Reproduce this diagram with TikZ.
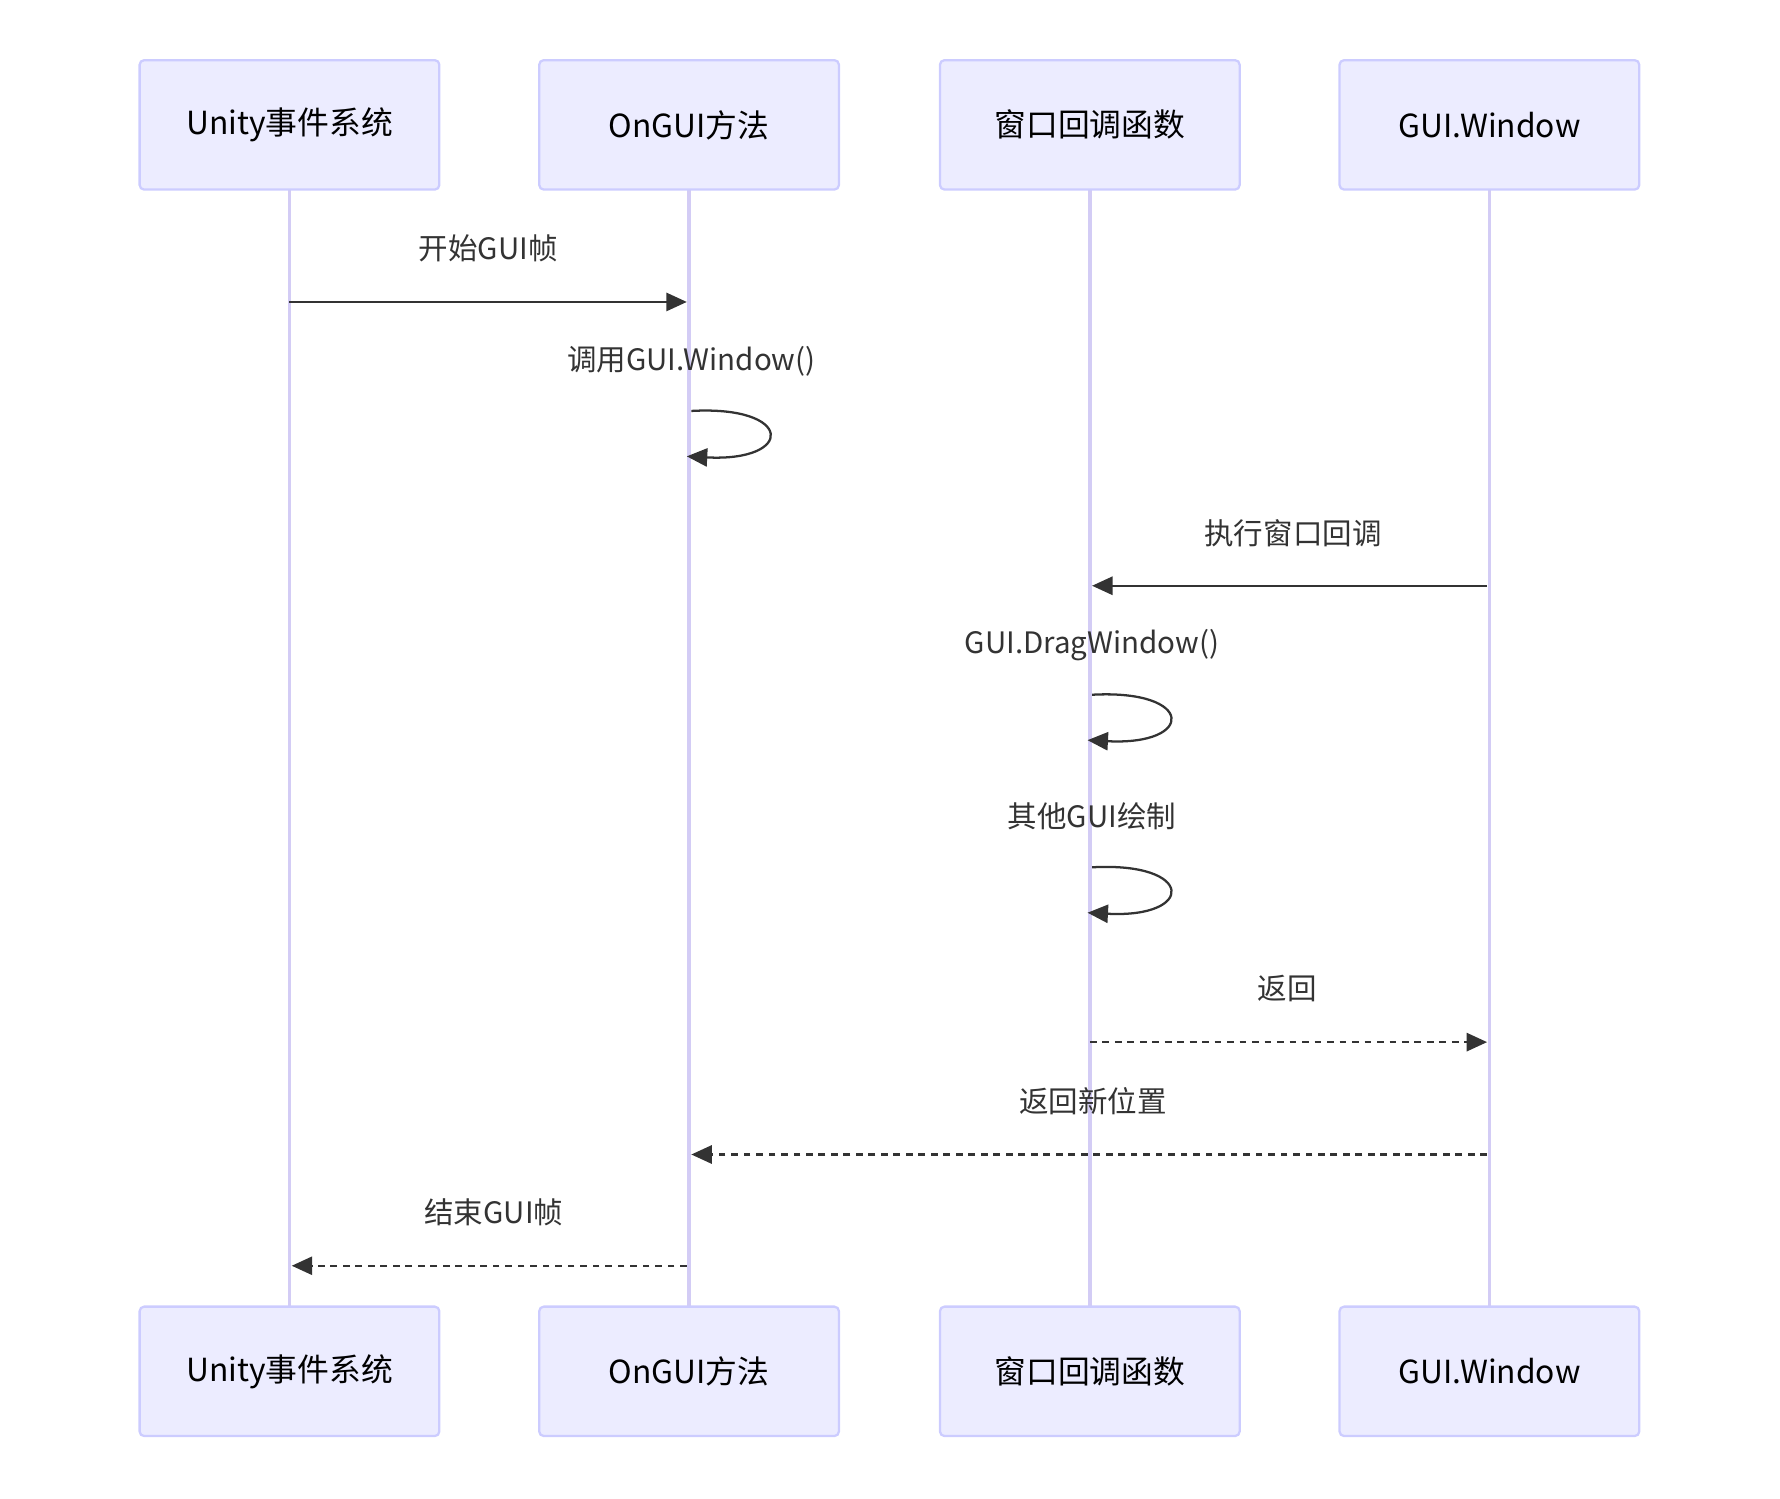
\documentclass[tikz,border=0pt]{standalone}
\usepackage{fontspec}
\setmainfont{Noto Sans CJK SC}
\usetikzlibrary{arrows.meta}
\definecolor{boxfill}{HTML}{ECECFF}
\definecolor{boxline}{HTML}{CCCCFF}
\definecolor{life}{HTML}{D3CCF5}
\definecolor{ink}{HTML}{333333}
\begin{document}
\begin{tikzpicture}[x=0.5pt,y=-0.5pt,
  actor/.style={draw=boxline,fill=boxfill,line width=1pt,rounded corners=2pt,minimum width=132pt,minimum height=57pt,inner sep=0pt,font=\fontsize{14}{16}\selectfont,text=black},
  lab/.style={font=\fontsize{13}{15}\selectfont,text=ink},
  msg/.style={draw=ink,line width=1pt,-{Triangle[length=9pt,width=8pt]}},
  ret/.style={msg,dash pattern=on 3pt off 2.5pt}]
\useasboundingbox (0,0) rectangle (1568,1320);
\foreach \n/\x/\t in {a/255/Unity事件系统,b/607/OnGUI方法,c/960/窗口回调函数,d/1312/GUI.Window}{
  \draw[life,line width=1.5pt] (\x,167) -- (\x,1151);
  \node[actor] (\n top) at (\x,110) {\t};
  \node[actor] (\n bot) at (\x,1208) {\t};
}
% coordinates
\coordinate (a1) at (255,266); \coordinate (b1) at (605,266);
\coordinate (b2s) at (609,362); \coordinate (b2e) at (605,402);
\coordinate (d3) at (1310,516); \coordinate (c3) at (962,516);
\coordinate (c4s) at (962,612); \coordinate (c4e) at (958,652);
\coordinate (c5s) at (962,764); \coordinate (c5e) at (958,804);
\coordinate (c6) at (960,918); \coordinate (d6) at (1310,918);
\coordinate (d7) at (1310,1017); \coordinate (b7) at (609,1017);
\coordinate (b8) at (605,1115); \coordinate (a8) at (257,1115);

\node[lab] (l1) at (430,219) {开始GUI帧};
\draw[msg] (a1) -- (b1);
\node[lab] (l2) at (609,318) {调用GUI.Window()};
\draw[msg] (b2s) .. controls (700,357) and (700,407) .. (b2e);
\node[lab] (l3) at (1139,470) {执行窗口回调};
\draw[msg] (d3) -- (c3);
\node[lab] (l4) at (962,568) {GUI.DragWindow()};
\draw[msg] (c4s) .. controls (1053,607) and (1053,657) .. (c4e);
\node[lab] (l5) at (962,719) {其他GUI绘制};
\draw[msg] (c5s) .. controls (1053,759) and (1053,809) .. (c5e);
\node[lab] (l6) at (1134,871) {返回};
\draw[ret] (c6) -- (d6);
\node[lab] (l7) at (963,970) {返回新位置};
\draw[ret] (d7) -- (b7);
\node[lab] (l8) at (435,1068) {结束GUI帧};
\draw[ret] (b8) -- (a8);
\end{tikzpicture}
\end{document}
